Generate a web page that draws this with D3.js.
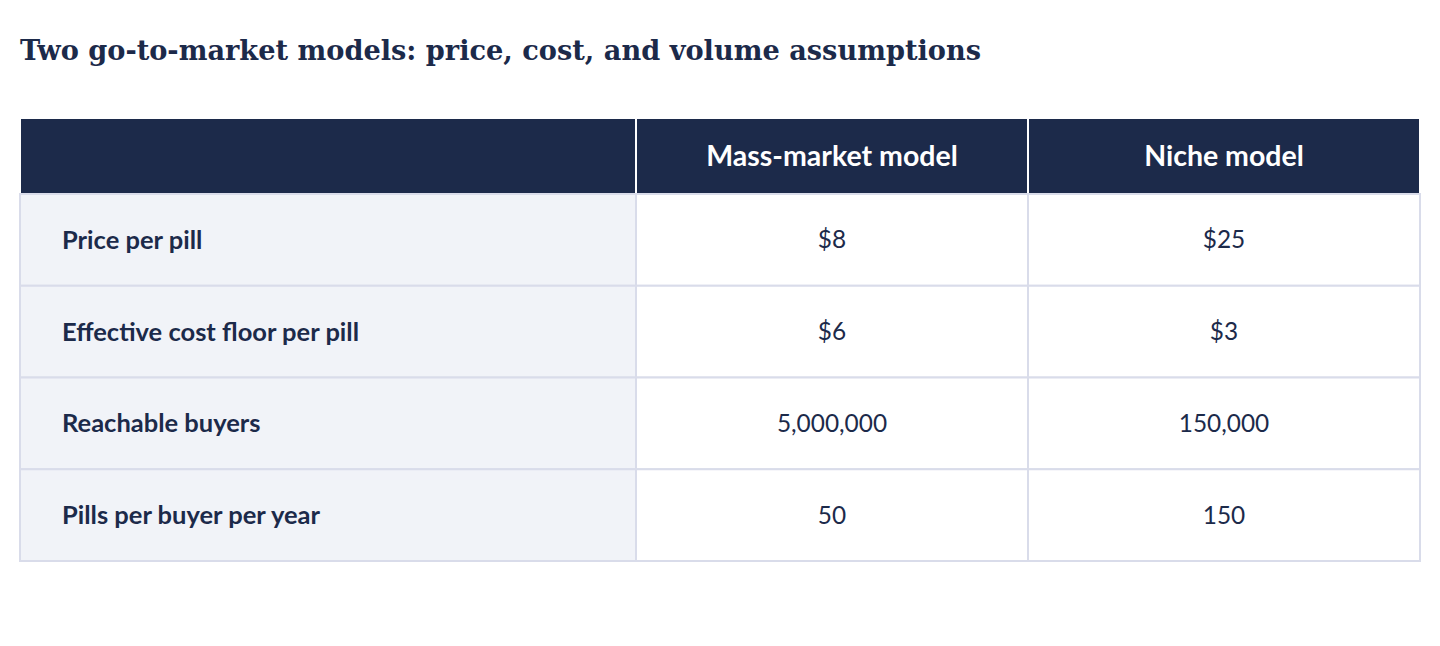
<!DOCTYPE html>
<html>
<head>
<meta charset="utf-8">
<script src="https://cdn.jsdelivr.net/npm/d3@7"></script>
<style>
  body { margin: 0; background: #fff; }
  svg { display: block; }
</style>
</head>
<body>
<svg id="chart" width="1440" height="646"></svg>
<script>
var title = "Two go-to-market models: price, cost, and volume assumptions"
var columns = ["", "Mass-market model", "Niche model"]
var rowLabels = ["Price per pill", "Effective cost floor per pill", "Reachable buyers", "Pills per buyer per year"]
var massMarket = ["$8", "$6", "5,000,000", "50"]
var niche = ["$25", "$3", "150,000", "150"]

var svg = d3.select("#chart")
var navy = "#1c2a4a"
var border = "#d9dcea"

svg.append("text").text(title)
  .attr("x", 20).attr("y", 60)
  .attr("font-family", "DejaVu Serif").attr("font-weight", "bold")
  .attr("font-size", 27.2).attr("fill", navy)

// column edges: label column 44%, two value columns 28% each
var colEdges = [0, 0.44, 0.72, 1]
var x = d3.scaleLinear().domain([0, 1]).range([20, 1420])
var y = d3.scaleBand().domain(rowLabels).range([194, 561])

var cols = columns.map(function(c, i) { return {name: c, x0: x(colEdges[i]), x1: x(colEdges[i + 1])} })

// header
var head = svg.append("g")
head.selectAll("rect").data(cols).enter().append("rect")
  .attr("x", function(d) { return d.x0 }).attr("y", 118)
  .attr("width", function(d) { return d.x1 - d.x0 }).attr("height", 194 - 118)
  .attr("fill", navy).attr("stroke", "#fff").attr("stroke-width", 2)
head.selectAll("text").data(cols).enter().append("text")
  .text(function(d) { return d.name })
  .attr("x", function(d) { return (d.x0 + d.x1) / 2 }).attr("y", 156)
  .attr("dy", "0.35em").attr("text-anchor", "middle")
  .attr("font-family", "Lato").attr("font-weight", "bold").attr("font-size", 28.5)
  .attr("fill", "#fff")

// body cells
var cells = []
rowLabels.forEach(function(r, i) {
  cells.push({row: r, col: 0, text: r})
  cells.push({row: r, col: 1, text: massMarket[i]})
  cells.push({row: r, col: 2, text: niche[i]})
})

var body = svg.append("g")
body.selectAll("rect").data(cells).enter().append("rect")
  .attr("x", function(d) { return cols[d.col].x0 }).attr("y", function(d) { return y(d.row) })
  .attr("width", function(d) { return cols[d.col].x1 - cols[d.col].x0 }).attr("height", y.bandwidth())
  .attr("fill", function(d) { return d.col == 0 ? "#f1f3f8" : "#fff" })
  .attr("stroke", border).attr("stroke-width", 2)

body.selectAll("text").data(cells).enter().append("text")
  .text(function(d) { return d.text })
  .attr("x", function(d) { return d.col == 0 ? cols[0].x0 + 42 : (cols[d.col].x0 + cols[d.col].x1) / 2 })
  .attr("y", function(d) { return y(d.row) + y.bandwidth() / 2 })
  .attr("dy", "0.35em")
  .attr("text-anchor", function(d) { return d.col == 0 ? "start" : "middle" })
  .attr("font-family", "Lato")
  .attr("font-size", function(d) { return d.col == 0 ? 25.5 : 24.4 })
  .attr("font-weight", function(d) { return d.col == 0 ? "bold" : "normal" })
  .attr("fill", navy)
</script>
</body>
</html>
